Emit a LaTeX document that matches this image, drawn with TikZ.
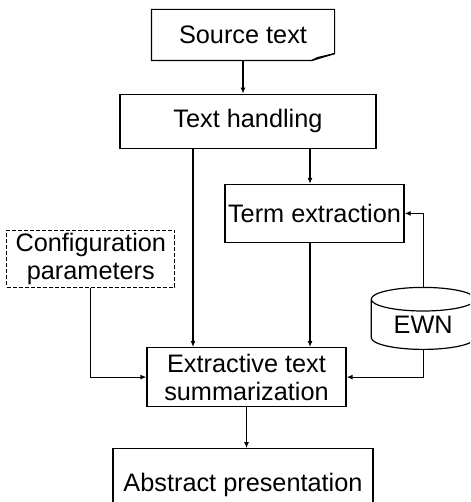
\documentclass[tikz,border=0pt]{standalone}
\usepackage{fontspec}
\setsansfont{Liberation Sans}
\usepackage{tikz}
\usetikzlibrary{shapes.geometric, arrows.meta, positioning}
\tikzset{
    block/.style={
        rectangle,
        draw=black,
        line width=0.6pt,
        fill=white,
        align=center,
        inner sep=0pt,
        font=\fontsize{12.65}{14}\selectfont\sffamily
    },
    dashblock/.style={
        block,
        dash pattern=on 2pt off 1pt
    },
    docblock/.style={
        block,
        draw=none
    },
    dbblock/.style={
        block,
        cylinder,
        shape border rotate=90,
        aspect=0.4
    },
    connection/.style={
        draw=black,
        line width=0.6pt,
        -{Latex[length=3pt,width=2.5pt]}
    },
    outline/.style={
        draw=black,
        line width=0.6pt
    }
}
\begin{document}
\begin{tikzpicture}
\clip (0,0) rectangle (235pt,-251pt);

% Input document
\node[docblock, minimum width=91pt, minimum height=25pt] (src) at (121.5pt,-17.5pt) {Source text};
\draw[outline] (src.north west) -- (src.north east) -- ([yshift=3.5pt]src.south east)
    -- ([xshift=-11.5pt]src.south east) -- (src.south west) -- cycle;
\draw[outline] ([yshift=3.5pt]src.south east) -- ([xshift=-8.5pt,yshift=1.5pt]src.south east)
    -- ([xshift=-11.5pt]src.south east);

% Processing blocks
\node[block, minimum width=128pt, minimum height=27pt, below=16.5pt of src, xshift=2.5pt] (handling) {Text handling};
\node[block, minimum width=89.5pt, minimum height=29pt, below=17.5pt of handling, xshift=33.25pt] (term) {Term extraction};
\node[block, minimum width=99.5pt, minimum height=29.5pt, below=52pt of term, xshift=-34pt] (summ) {Extractive text\\summarization};

% Side inputs
\node[dashblock, minimum width=84pt, minimum height=28.5pt, anchor=south east] (config) at ([shift={(14.5pt,29.5pt)}]summ.north west) {Configuration\\parameters};
\node[dbblock, minimum width=52pt, minimum height=31pt, right=12pt of summ, yshift=26.25pt] (ewn) {EWN};

% Output
\node[block, minimum width=130pt, minimum height=36pt, below=20.5pt of summ, xshift=-1.75pt] (abstract) {Abstract presentation};

% Connections
\draw[connection] (src.south) -- (src.south |- handling.north);
\draw[connection] ([xshift=-27.5pt]handling.south) -- ([xshift=-27.5pt]handling.south |- summ.north);
\draw[connection] ([xshift=-2.25pt]term.north |- handling.south) -- ([xshift=-2.25pt]term.north);
\draw[connection] ([xshift=-2.25pt]term.south) -- ([xshift=-2.25pt]term.south |- summ.north);
\draw[connection] (config.south) |- (summ.west);
\draw[connection] (ewn.north) |- (term.east);
\draw[connection] (ewn.south) |- (summ.east);
\draw[connection] (summ.south) -- (summ.south |- abstract.north);

\end{tikzpicture}
\end{document}
